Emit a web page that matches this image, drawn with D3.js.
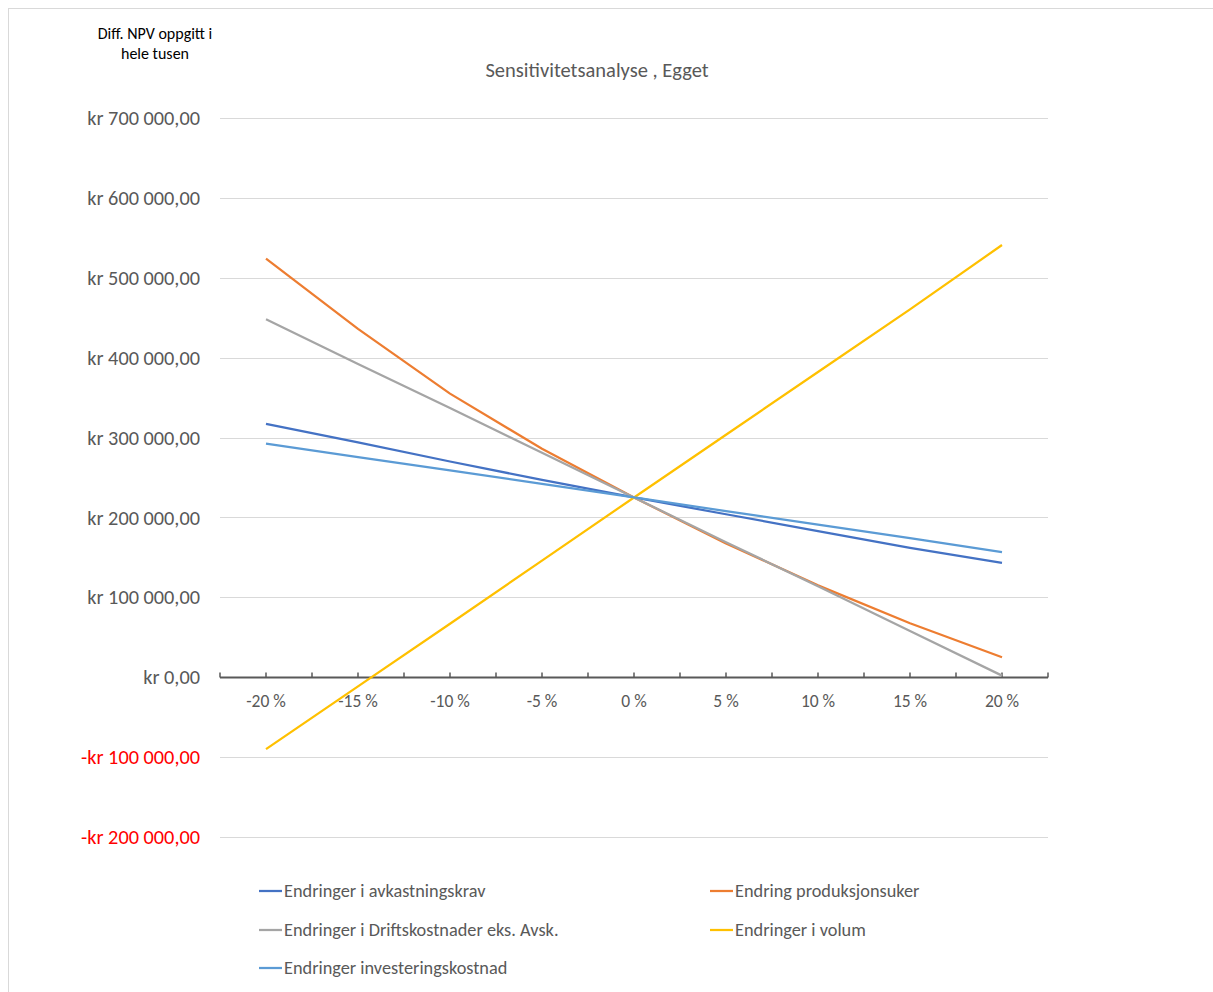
<!DOCTYPE html>
<html>
<head>
<meta charset="utf-8">
<script src="https://cdn.jsdelivr.net/npm/d3@7"></script>
<style>
  body { margin: 0; background: #fff; }
  text { font-family: Calibri, Carlito, Lato, "Open Sans", sans-serif; }
</style>
</head>
<body>
<svg id="chart" width="1213" height="992"></svg>
<script>
// Categories (x axis)
const categories = ["-20 %", "-15 %", "-10 %", "-5 %", "0 %", "5 %", "10 %", "15 %", "20 %"];

// Series names and values (NOK)
const seriesNames = [
    "Endringer i avkastningskrav",
    "Endring produksjonsuker",
    "Endringer i Driftskostnader eks. Avsk.",
    "Endringer i volum",
    "Endringer investeringskostnad"
];
const avkastningskrav = [317000, 294000, 270000, 247000, 225000, 204000, 183000, 162000, 143000];
const produksjonsuker = [524000, 436000, 355000, 286000, 225000, 167500, 115000, 67500, 25000];
const driftskostnader = [448000, 392000, 337000, 281000, 225000, 169000, 114000, 58000, 2000];
const volum = [-90000, -11500, 67000, 146000, 225000, 303500, 382000, 460500, 541000];
const investeringskostnad = [292500, 275500, 259000, 242000, 225000, 208000, 191000, 174000, 156500];
const seriesColors = ["#4472c4", "#ed7d31", "#a5a5a5", "#ffc000", "#5b9bd5"];

// Y axis ticks
const yTicks = [-200000, -100000, 0, 100000, 200000, 300000, 400000, 500000, 600000, 700000];

const seriesValues = [avkastningskrav, produksjonsuker, driftskostnader, volum, investeringskostnad];
// draw order: last drawn on top
const drawOrder = [0, 1, 2, 3, 4];

const svg = d3.select("#chart");

// chart border
svg.append("rect")
    .attr("x", 8.5).attr("y", 8.5)
    .attr("width", 1230).attr("height", 1010)
    .attr("fill", "none")
    .attr("stroke", "#d9d9d9");

const plotLeft = 220, plotRight = 1048;

const x = d3.scaleBand()
    .domain(categories)
    .range([plotLeft, plotRight])
    .paddingInner(0).paddingOuter(0);

const y = d3.scaleLinear()
    .domain([-200000, 700000])
    .range([837, 118]);

// formatting like "kr 700 000,00"
function krFormat(v) {
    const abs = Math.abs(v);
    const s = d3.format(",.2f")(abs).replace(/,/g, " ").replace(".", ",");
    return (v < 0 ? "-" : "") + "kr " + s;
}

// gridlines
svg.append("g")
    .selectAll("line")
    .data(yTicks.filter(d => d !== 0))
    .enter().append("line")
    .attr("x1", plotLeft).attr("x2", plotRight)
    .attr("y1", d => Math.round(y(d)) + 0.5)
    .attr("y2", d => Math.round(y(d)) + 0.5)
    .attr("stroke", "#d9d9d9")
    .attr("stroke-width", 1);

// y tick labels
svg.append("g")
    .selectAll("text")
    .data(yTicks)
    .enter().append("text")
    .attr("x", 200)
    .attr("y", d => y(d))
    .attr("dy", "0.35em")
    .attr("text-anchor", "end")
    .style("font-size", "20.3px")
    .style("fill", d => d < 0 ? "#ff0000" : "#595959")
    .text(d => krFormat(d));

// x axis line + ticks (at band edges and centres)
const xAxisY = Math.round(y(0)) + 0.5;
svg.append("line")
    .attr("x1", plotLeft).attr("x2", plotRight)
    .attr("y1", xAxisY).attr("y2", xAxisY)
    .attr("stroke", "#595959")
    .attr("stroke-width", 2);

const tickXs = [];
categories.forEach(c => {
    tickXs.push(x(c));
    tickXs.push(x(c) + x.bandwidth() / 2);
});
tickXs.push(plotRight);

svg.append("g")
    .selectAll("line")
    .data(tickXs)
    .enter().append("line")
    .attr("x1", d => d).attr("x2", d => d)
    .attr("y1", xAxisY - 5).attr("y2", xAxisY)
    .attr("stroke", "#595959")
    .attr("stroke-width", 1.5);

// x labels
svg.append("g")
    .selectAll("text")
    .data(categories)
    .enter().append("text")
    .attr("x", d => x(d) + x.bandwidth() / 2)
    .attr("y", 701)
    .attr("dy", "0.35em")
    .attr("text-anchor", "middle")
    .style("font-size", "17.5px")
    .style("fill", "#595959")
    .text(d => d);

// lines
const line = d3.line()
    .x((d, i) => x(categories[i]) + x.bandwidth() / 2)
    .y(d => y(d));

drawOrder.forEach(i => {
    svg.append("path")
        .datum(seriesValues[i])
        .attr("d", line)
        .attr("fill", "none")
        .attr("stroke", seriesColors[i])
        .attr("stroke-width", 2.25)
        .attr("stroke-linejoin", "round");
});

// title
svg.append("text")
    .attr("x", 597)
    .attr("y", 70)
    .attr("dy", "0.35em")
    .attr("text-anchor", "middle")
    .style("font-size", "20.5px")
    .style("fill", "#595959")
    .text("Sensitivitetsanalyse , Egget");

// unit note
const note = svg.append("text")
    .attr("text-anchor", "middle")
    .style("font-size", "16px")
    .style("fill", "#000");
note.append("tspan").attr("x", 155).attr("y", 39).text("Diff. NPV oppgitt i");
note.append("tspan").attr("x", 155).attr("y", 59).text("hele tusen");

// legend
const legendPos = [
    { x: 259, y: 891 },
    { x: 710, y: 891 },
    { x: 259, y: 930 },
    { x: 710, y: 930 },
    { x: 259, y: 968 }
];
const legend = svg.append("g");
seriesNames.forEach((name, i) => {
    const p = legendPos[i];
    legend.append("line")
        .attr("x1", p.x).attr("x2", p.x + 23)
        .attr("y1", p.y).attr("y2", p.y)
        .attr("stroke", seriesColors[i])
        .attr("stroke-width", 2.25);
    legend.append("text")
        .attr("x", p.x + 25)
        .attr("y", p.y)
        .attr("dy", "0.35em")
        .style("font-size", "18.3px")
        .style("fill", "#595959")
        .text(name);
});
</script>
</body>
</html>
